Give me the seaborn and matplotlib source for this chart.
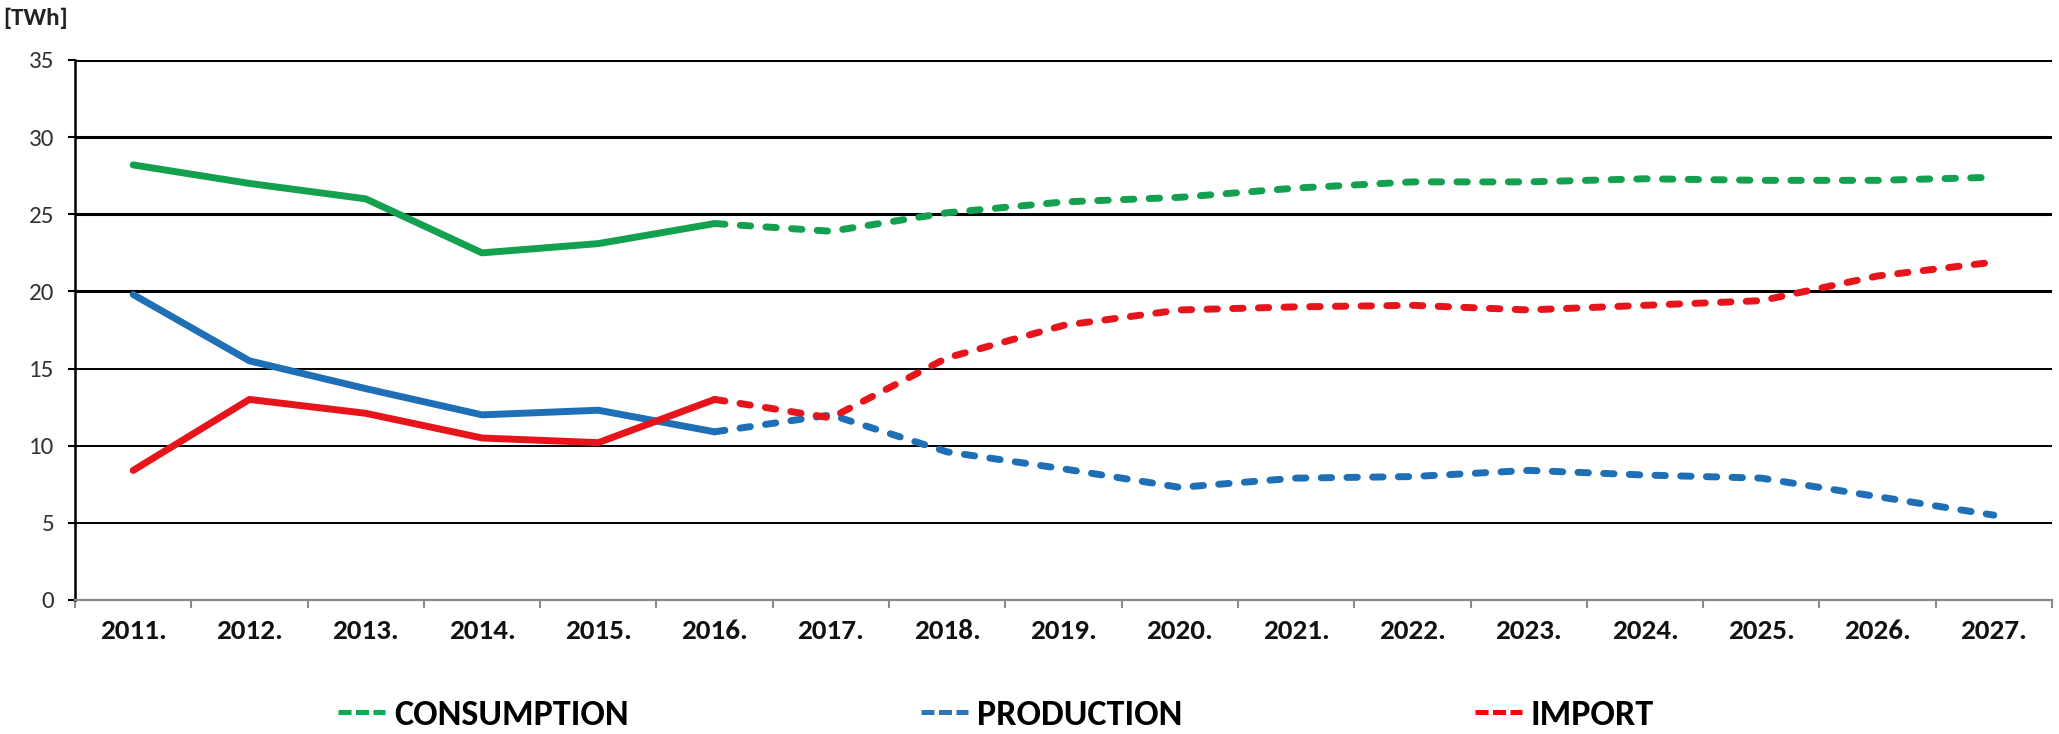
import matplotlib
matplotlib.use("Agg")
import matplotlib.pyplot as plt
import seaborn as sns
import pandas as pd
import numpy as np
import logging
from matplotlib.lines import Line2D
from matplotlib.font_manager import FontProperties

logging.getLogger("matplotlib.font_manager").setLevel(logging.ERROR)

# ---------------- data ----------------
years = ["2011.", "2012.", "2013.", "2014.", "2015.", "2016.", "2017.", "2018.", "2019.",
         "2020.", "2021.", "2022.", "2023.", "2024.", "2025.", "2026.", "2027."]
consumption = [28.2, 27.0, 26.0, 22.5, 23.1, 24.4, 23.9, 25.1, 25.8, 26.1, 26.7, 27.1, 27.1, 27.3, 27.2, 27.2, 27.4]
production = [19.8, 15.5, 13.7, 12.0, 12.3, 10.9, 12.0, 9.6, 8.5, 7.3, 7.9, 8.0, 8.4, 8.1, 7.9, 6.7, 5.5]
imports = [8.4, 13.0, 12.1, 10.5, 10.2, 13.0, 11.8, 15.7, 17.8, 18.8, 19.0, 19.1, 18.8, 19.1, 19.4, 21.0, 21.9]
series_names = ["CONSUMPTION", "PRODUCTION", "IMPORT"]
last_actual = "2016."
y_ticks = [0, 5, 10, 15, 20, 25, 30, 35]
unit_label = "[TWh]"

colors = {"CONSUMPTION": "#13a04f", "PRODUCTION": "#1f6fb6", "IMPORT": "#e8141b"}
legend_colors = {"CONSUMPTION": "#00b050", "PRODUCTION": "#2e75b6", "IMPORT": "#ff0000"}

# ---------------- long table ----------------
split = years.index(last_actual)
rows = []
for name, vals in zip(series_names, [consumption, production, imports]):
    for i, (yr, v) in enumerate(zip(years, vals)):
        if i <= split:
            rows.append({"pos": i, "year": yr, "value": v, "series": name, "segment": "actual"})
        if i >= split:
            rows.append({"pos": i, "year": yr, "value": v, "series": name, "segment": "forecast"})
df = pd.DataFrame(rows)

# ---------------- figure ----------------
sns.set_theme(style="white")
COND = ["Carlito", "Roboto Condensed", "Liberation Sans Narrow", "Saira SemiCondensed", "DejaVu Sans"]
plt.rcParams["font.family"] = COND

W, H = 2059, 734
fig = plt.figure(figsize=(W / 100, H / 100), dpi=100)
ax = fig.add_axes([75 / W, 1 - 600 / H, (2052 - 75) / W, 540 / H])

sns.lineplot(data=df, x="pos", y="value", hue="series", style="segment",
             palette=colors, dashes={"actual": "", "forecast": (1.5, 2.2)},
             hue_order=series_names, style_order=["actual", "forecast"],
             estimator=None, sort=True, linewidth=5.0, legend=False, ax=ax)
for ln in ax.lines:
    ln.set_dash_capstyle("round")
    ln.set_solid_capstyle("round")
    ln.set_solid_joinstyle("round")
    ln.set_dash_joinstyle("round")

# axes
ax.set_xlim(-0.5, len(years) - 0.5)
ax.set_ylim(0, 35)
ax.set_xlabel("")
ax.set_ylabel("")
ax.set_yticks(y_ticks)
ax.set_yticklabels([str(t) for t in y_ticks])
ax.set_xticks(np.arange(len(years)))
ax.set_xticklabels(years)
ax.set_xticks(np.arange(len(years) + 1) - 0.5, minor=True)

xfont = FontProperties(family=COND, weight="bold", size=21)
yfont = FontProperties(family=COND, weight="normal", size=18)
for lab in ax.get_xticklabels():
    lab.set_fontproperties(xfont)
    lab.set_color("#111111")
for lab in ax.get_yticklabels():
    lab.set_fontproperties(yfont)
    lab.set_color("#333333")

ax.tick_params(axis="x", which="major", length=0, pad=14)
ax.tick_params(axis="x", which="minor", length=6, width=1.5, color="#8a8a8a", direction="out", bottom=True)
ax.tick_params(axis="y", which="major", length=5, width=1.5, color="black", direction="out", left=True, pad=10)

for side in ["top", "right"]:
    ax.spines[side].set_visible(False)
ax.spines["left"].set_color("black")
ax.spines["left"].set_linewidth(1.8)
ax.spines["bottom"].set_color("#8a8a8a")
ax.spines["bottom"].set_linewidth(1.6)

# gridlines (heavier in the upper part, as in the reference)
ax.yaxis.grid(True, color="black", linewidth=1.4)
ax.xaxis.grid(False)
ax.set_axisbelow(True)
for t, gl in zip(y_ticks, ax.get_ygridlines()):
    if t == 0:
        gl.set_visible(False)
    elif t >= 20:
        gl.set_linewidth(2.2)

# unit label
fig.text(3 / W, 1 - 18 / H, unit_label, ha="left", va="center",
         fontproperties=FontProperties(family=COND, weight="bold", size=18),
         color="#222222")

# legend
handles = [Line2D([], [], color=legend_colors[n], linewidth=3.6, linestyle=(0, (2.6, 0.9)),
                  dash_capstyle="butt") for n in series_names]
leg = fig.legend(handles, series_names, ncol=3, loc="center",
                 bbox_to_anchor=(996 / W, 1 - 715 / H), frameon=False,
                 prop=FontProperties(family=COND, weight="bold", size=26),
                 handlelength=1.3, handletextpad=0.25, columnspacing=8.1,
                 borderpad=0, borderaxespad=0)
for txt in leg.get_texts():
    txt.set_color("black")

fig.savefig("out.png", dpi=100)
